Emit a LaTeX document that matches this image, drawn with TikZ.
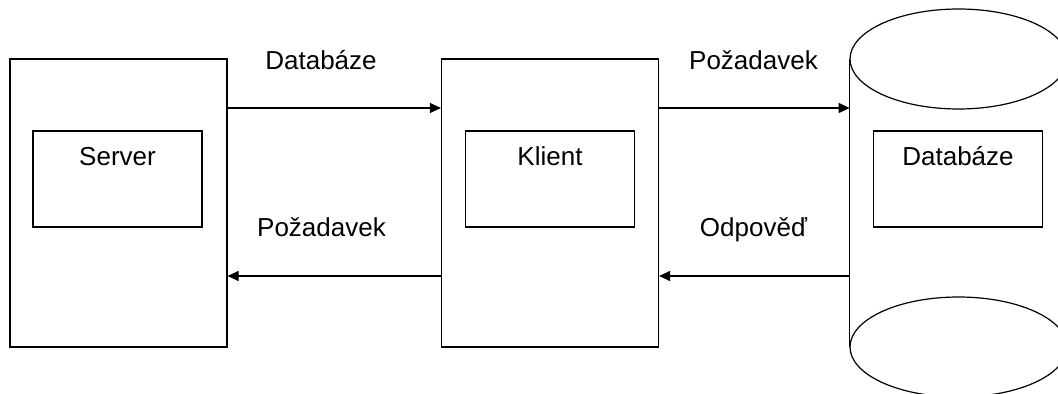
\documentclass[tikz,border=0pt]{standalone}
\usepackage{fontspec}
\setmainfont{Liberation Sans}
\usetikzlibrary{arrows.meta}
\begin{document}
\begin{tikzpicture}[x=0.5pt,y=-0.5pt,
  outer/.style={draw,line width=0.6pt,minimum width=108.5pt,minimum height=144pt,inner sep=0pt},
  inner/.style={draw,line width=0.6pt,minimum width=84.5pt,minimum height=48pt,inner sep=0pt},
  lbl/.style={font=\fontsize{13}{15}\selectfont,inner sep=0pt,anchor=base},
  arr/.style={line width=0.6pt,-{Triangle[length=5.5pt,width=5pt]}},
  cyl/.style={line width=0.6pt}]
\path[use as bounding box] (0,0) rectangle (1058,394);
\clip (0,0) rectangle (1058,394);
% boxes
\node[outer] (srv) at (118.5,203) {};
\node[outer] (kl) at (550,203) {};
\node[inner] (srvin) at (117.5,179) {};
\node[inner] (klin) at (550,179) {};
% cylinder
\node[minimum width=108.5pt,minimum height=144pt,inner sep=0pt] (db) at (958.5,203) {};
\draw[cyl] (958.5,59) ellipse [x radius=108.5, y radius=50];
\draw[cyl] (958.5,347) ellipse [x radius=108.5, y radius=50];
\draw[cyl] (db.north west) -- (db.south west);
\draw[cyl] (db.north east) -- (db.south east);
\node[inner] (dbin) at (958,179) {};
% inner labels
\node[lbl] (t1) at (117.5,166) {Server};
\node[lbl] (t2) at (550,166) {Klient};
\node[lbl] (t3) at (958,166) {Databáze};
% arrows
\coordinate (yA) at (0,108);
\coordinate (yB) at (0,276);
\draw[arr] (srv.east |- yA) -- (kl.west |- yA);
\draw[arr] (kl.west |- yB) -- (srv.east |- yB);
\draw[arr] (kl.east |- yA) -- (db.west |- yA);
\draw[arr] (db.west |- yB) -- (kl.east |- yB);
% arrow labels
\node[lbl] (l1) at (321,70) {Databáze};
\node[lbl] (l2) at (321.5,237) {Požadavek};
\node[lbl] (l3) at (753.5,70) {Požadavek};
\node[lbl] (l4) at (753.5,237) {Odpověď};
\end{tikzpicture}
\end{document}
